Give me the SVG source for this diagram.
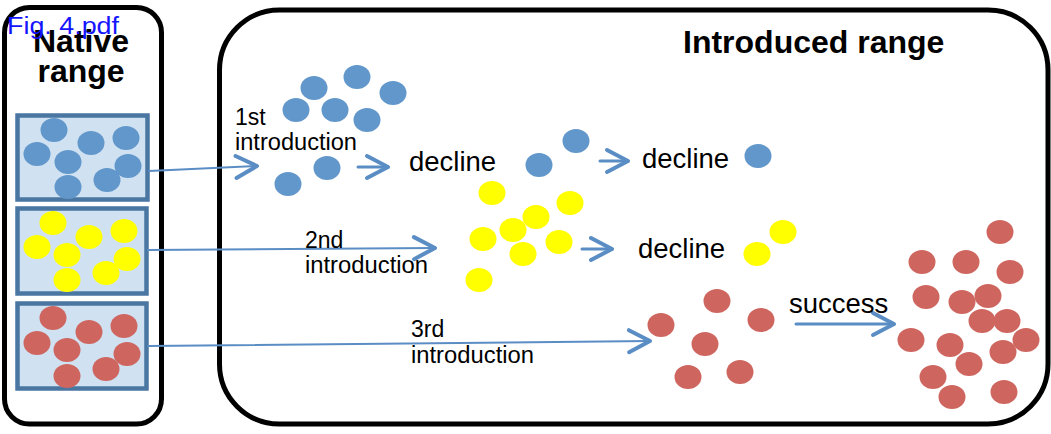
<svg xmlns="http://www.w3.org/2000/svg" width="1051" height="434" viewBox="0 0 1051 434">
<defs>
<style>
.frame{fill:#fff;stroke:#000;stroke-width:5}
.pool{fill:#D0E1F2;stroke:#4A76A2;stroke-width:4.5}
.b{fill:#6197CA}
.y{fill:#FFFF00}
.r{fill:#CE665F}
.t{font-family:"Liberation Sans",Arial,sans-serif;fill:#000}
.h{font-family:"Liberation Sans",Arial,sans-serif;font-weight:bold;font-size:32px;fill:#000}
.lab{font-size:23px}
.big{font-size:27.5px}
.sh{fill:none;stroke:#5B8DC5;stroke-linecap:round}
</style>
<marker id="chev" markerUnits="userSpaceOnUse" viewBox="-26 -16 32 32" markerWidth="32" markerHeight="32" refX="0" refY="0" orient="auto">
<path d="M-21,-11 L0,0 L-21,11" fill="none" stroke="#5B8DC5" stroke-width="4" stroke-linecap="round" stroke-linejoin="round"/>
</marker>
</defs>
<rect width="1051" height="434" fill="#fff"/>

<g id="native-range">
<rect class="frame" x="4.5" y="7.5" width="157" height="416.5" rx="25"/>
<text class="h" x="81" y="52" text-anchor="middle">Native</text>
<text class="h" x="81" y="82" text-anchor="middle">range</text>
</g>

<g id="introduced-range">
<rect class="frame" x="219.5" y="10" width="828.5" height="414" rx="60"/>
<text class="h" x="683" y="53">Introduced range</text>
</g>

<g id="pool-blue">
<rect class="pool" x="17.5" y="115.5" width="130" height="84"/>
<ellipse class="b" cx="54" cy="130" rx="13.5" ry="12"/>
<ellipse class="b" cx="37" cy="154" rx="13.5" ry="12"/>
<ellipse class="b" cx="91" cy="143" rx="13.5" ry="12"/>
<ellipse class="b" cx="126" cy="138" rx="13.5" ry="12"/>
<ellipse class="b" cx="68" cy="162" rx="13.5" ry="12"/>
<ellipse class="b" cx="128" cy="166" rx="13.5" ry="12"/>
<ellipse class="b" cx="107" cy="180" rx="13.5" ry="12"/>
<ellipse class="b" cx="68" cy="187" rx="13.5" ry="12"/>
</g>

<g id="pool-yellow">
<rect class="pool" x="17.5" y="208.5" width="129" height="85"/>
<ellipse class="y" cx="53" cy="223" rx="13.5" ry="12"/>
<ellipse class="y" cx="37" cy="247" rx="13.5" ry="12"/>
<ellipse class="y" cx="89" cy="237" rx="13.5" ry="12"/>
<ellipse class="y" cx="124" cy="231" rx="13.5" ry="12"/>
<ellipse class="y" cx="67" cy="255" rx="13.5" ry="12"/>
<ellipse class="y" cx="127" cy="259" rx="13.5" ry="12"/>
<ellipse class="y" cx="106" cy="273" rx="13.5" ry="12"/>
<ellipse class="y" cx="67" cy="280" rx="13.5" ry="12"/>
</g>

<g id="pool-red">
<rect class="pool" x="17.5" y="303.5" width="129" height="85"/>
<ellipse class="r" cx="53" cy="318" rx="13.5" ry="12"/>
<ellipse class="r" cx="37" cy="343" rx="13.5" ry="12"/>
<ellipse class="r" cx="89" cy="332" rx="13.5" ry="12"/>
<ellipse class="r" cx="124" cy="326" rx="13.5" ry="12"/>
<ellipse class="r" cx="67" cy="350" rx="13.5" ry="12"/>
<ellipse class="r" cx="127" cy="354" rx="13.5" ry="12"/>
<ellipse class="r" cx="106" cy="369" rx="13.5" ry="12"/>
<ellipse class="r" cx="67" cy="376" rx="13.5" ry="12"/>
</g>

<g id="blue-introduced">
<ellipse class="b" cx="314" cy="88" rx="13.5" ry="12"/>
<ellipse class="b" cx="357" cy="77" rx="13.5" ry="12"/>
<ellipse class="b" cx="393" cy="93" rx="13.5" ry="12"/>
<ellipse class="b" cx="296" cy="110" rx="13.5" ry="12"/>
<ellipse class="b" cx="335" cy="110" rx="13.5" ry="12"/>
<ellipse class="b" cx="367" cy="120" rx="13.5" ry="12"/>
<ellipse class="b" cx="327" cy="168" rx="13.5" ry="12"/>
<ellipse class="b" cx="288" cy="184" rx="13.5" ry="12"/>
</g>
<g id="blue-decline-1">
<ellipse class="b" cx="539" cy="165" rx="13.5" ry="12"/>
<ellipse class="b" cx="576" cy="141" rx="13.5" ry="12"/>
</g>
<g id="blue-decline-2">
<ellipse class="b" cx="758" cy="156" rx="13.5" ry="12"/>
</g>

<g id="yellow-introduced">
<ellipse class="y" cx="492" cy="193" rx="13.5" ry="12"/>
<ellipse class="y" cx="570" cy="203" rx="13.5" ry="12"/>
<ellipse class="y" cx="536" cy="217" rx="13.5" ry="12"/>
<ellipse class="y" cx="513" cy="230" rx="13.5" ry="12"/>
<ellipse class="y" cx="483" cy="239" rx="13.5" ry="12"/>
<ellipse class="y" cx="559" cy="242" rx="13.5" ry="12"/>
<ellipse class="y" cx="523" cy="254" rx="13.5" ry="12"/>
<ellipse class="y" cx="479" cy="280" rx="13.5" ry="12"/>
</g>
<g id="yellow-decline">
<ellipse class="y" cx="783" cy="232" rx="13.5" ry="12"/>
<ellipse class="y" cx="757" cy="254" rx="13.5" ry="12"/>
</g>

<g id="red-introduced">
<ellipse class="r" cx="717" cy="301" rx="13.5" ry="12"/>
<ellipse class="r" cx="661" cy="325" rx="13.5" ry="12"/>
<ellipse class="r" cx="761" cy="320" rx="13.5" ry="12"/>
<ellipse class="r" cx="705" cy="344" rx="13.5" ry="12"/>
<ellipse class="r" cx="740" cy="372" rx="13.5" ry="12"/>
<ellipse class="r" cx="688" cy="377" rx="13.5" ry="12"/>
</g>
<g id="red-success">
<ellipse class="r" cx="1000" cy="232" rx="13.5" ry="12"/>
<ellipse class="r" cx="922" cy="262" rx="13.5" ry="12"/>
<ellipse class="r" cx="966" cy="262" rx="13.5" ry="12"/>
<ellipse class="r" cx="1010" cy="272" rx="13.5" ry="12"/>
<ellipse class="r" cx="926" cy="297" rx="13.5" ry="12"/>
<ellipse class="r" cx="962" cy="302" rx="13.5" ry="12"/>
<ellipse class="r" cx="988" cy="296" rx="13.5" ry="12"/>
<ellipse class="r" cx="982" cy="321" rx="13.5" ry="12"/>
<ellipse class="r" cx="1007" cy="321" rx="13.5" ry="12"/>
<ellipse class="r" cx="911" cy="340" rx="13.5" ry="12"/>
<ellipse class="r" cx="950" cy="345" rx="13.5" ry="12"/>
<ellipse class="r" cx="1026" cy="340" rx="13.5" ry="12"/>
<ellipse class="r" cx="1003" cy="352" rx="13.5" ry="12"/>
<ellipse class="r" cx="969" cy="364" rx="13.5" ry="12"/>
<ellipse class="r" cx="933" cy="377" rx="13.5" ry="12"/>
<ellipse class="r" cx="952" cy="397" rx="13.5" ry="12"/>
<ellipse class="r" cx="1004" cy="392" rx="13.5" ry="12"/>
</g>

<g id="connectors">
<path class="sh" d="M149,171 L257,166" stroke-width="2" marker-end="url(#chev)"/>
<path class="sh" d="M358,167 L388,167" stroke-width="3" marker-end="url(#chev)"/>
<path class="sh" d="M600,161 L628,161" stroke-width="3" marker-end="url(#chev)"/>
<path class="sh" d="M148,250 L435,248" stroke-width="2" marker-end="url(#chev)"/>
<path class="sh" d="M582,249 L612,249" stroke-width="3" marker-end="url(#chev)"/>
<path class="sh" d="M148,346 L650,341" stroke-width="2" marker-end="url(#chev)"/>
<path class="sh" d="M796,324 L894,324" stroke-width="3" marker-end="url(#chev)"/>
</g>

<g id="labels">
<text class="t lab" x="235" y="125">1st</text>
<text class="t lab" x="235" y="150" textLength="122" lengthAdjust="spacingAndGlyphs">introduction</text>
<text class="t lab" x="305" y="248">2nd</text>
<text class="t lab" x="305" y="273" textLength="123" lengthAdjust="spacingAndGlyphs">introduction</text>
<text class="t lab" x="411" y="337">3rd</text>
<text class="t lab" x="411" y="363" textLength="123" lengthAdjust="spacingAndGlyphs">introduction</text>
<text class="t big" x="409" y="171">decline</text>
<text class="t big" x="642" y="168">decline</text>
<text class="t big" x="638" y="258">decline</text>
<text class="t big" x="789" y="313">success</text>
</g>

<text x="7" y="34" font-family="Liberation Sans, Arial, sans-serif" font-size="23" fill="#1414FF" textLength="112" lengthAdjust="spacingAndGlyphs">Fig. 4.pdf</text>
</svg>
